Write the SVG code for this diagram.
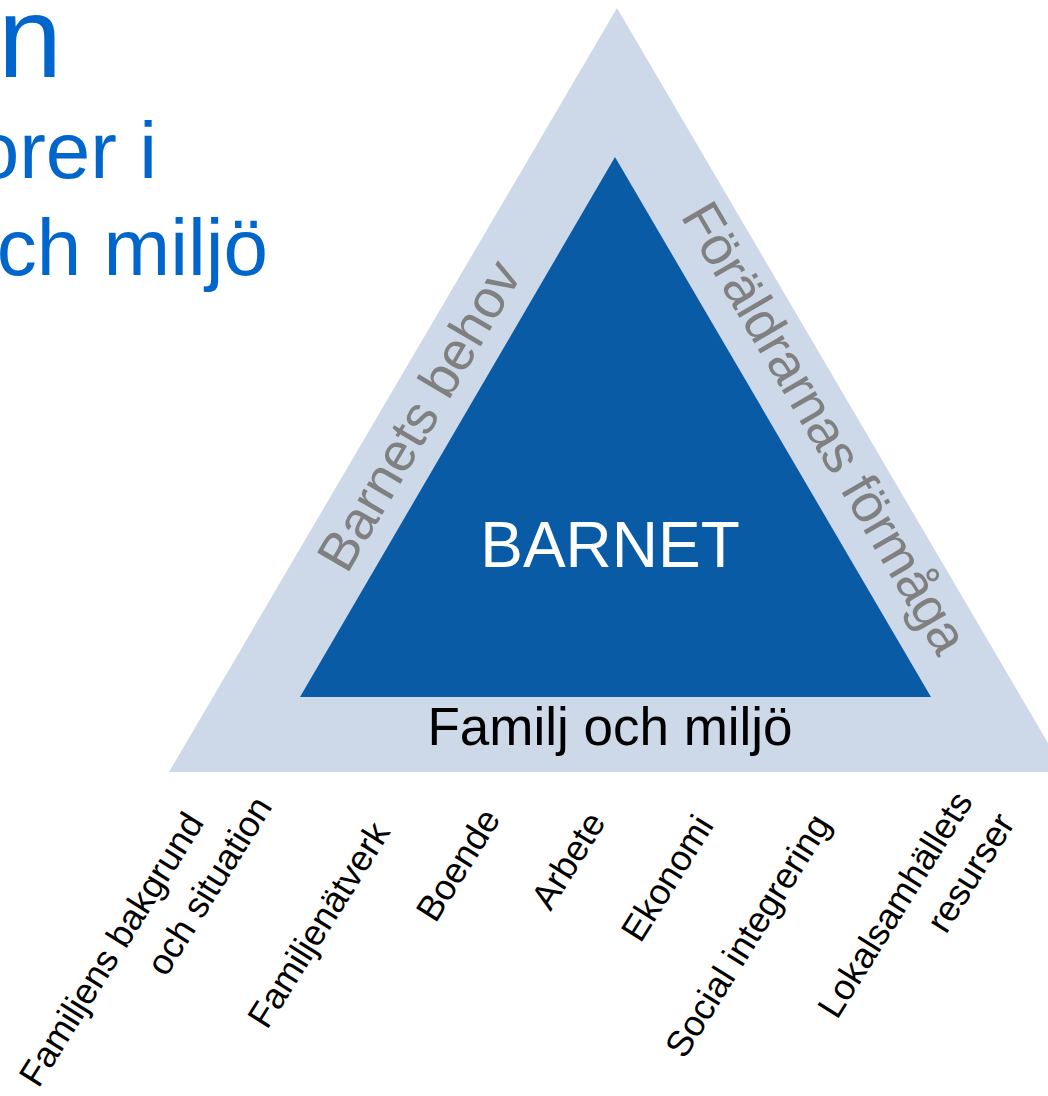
<svg xmlns="http://www.w3.org/2000/svg" width="1048" height="1096" viewBox="0 0 1048 1096">
<style>
text{font-family:"Liberation Sans",Arial,sans-serif}
.title{fill:#0066CC}
.side{fill:#808080;font-size:54px}
.lab{fill:#000;font-size:36px}
</style>
<rect width="1048" height="1096" fill="#fff"/>
<g id="title">
<text class="title" x="-2" y="77" font-size="115">n</text>
<text class="title" x="157" y="178" font-size="80" text-anchor="end">orer i</text>
<text class="title" x="268" y="275" font-size="80" text-anchor="end">ch miljö</text>
</g>
<g id="outer">
<polygon points="617,8 1065,772 169,772" fill="#CDD8E9"/>
<text class="side" transform="translate(347,575) rotate(-59.7)">Barnets behov</text>
<text class="side" transform="translate(680,216) rotate(59.7)" textLength="512">Föräldrarnas förmåga</text>
<text x="610" y="745" font-size="53" text-anchor="middle" fill="#000">Familj och miljö</text>
</g>
<g id="inner">
<polygon points="615,157 931,697 300,697" fill="#0A5BA6"/>
<text x="610" y="567" font-size="64" text-anchor="middle" fill="#fff">BARNET</text>
</g>
<g id="labels">
<text class="lab" transform="translate(38.5,1089) rotate(-58)">Familjens bakgrund</text>
<text class="lab" transform="translate(166,978) rotate(-58)">och situation</text>
<text class="lab" transform="translate(267,1030.5) rotate(-58)">Familjenätverk</text>
<text class="lab" transform="translate(435.5,924) rotate(-58)">Boende</text>
<text class="lab" transform="translate(550.5,912) rotate(-58)">Arbete</text>
<text class="lab" transform="translate(640.5,944) rotate(-58)">Ekonomi</text>
<text class="lab" transform="translate(684.5,1060) rotate(-58)">Social integrering</text>
<text class="lab" transform="translate(837,1020.5) rotate(-58)">Lokalsamhällets</text>
<text class="lab" transform="translate(946,935) rotate(-58)">resurser</text>
</g>
</svg>
